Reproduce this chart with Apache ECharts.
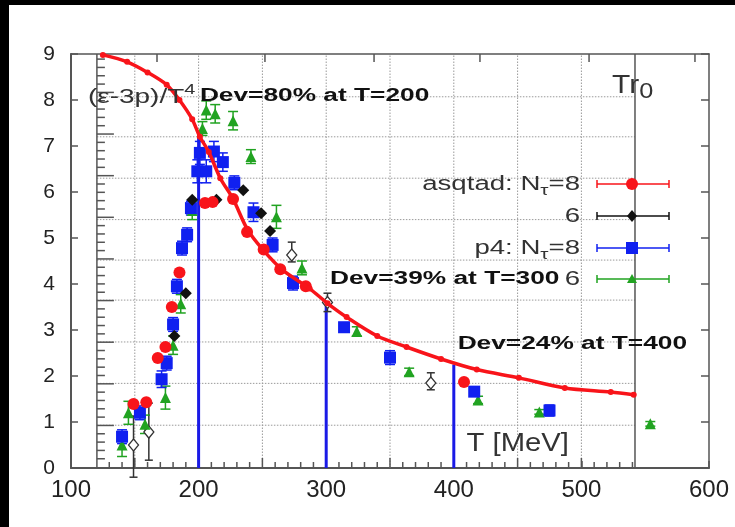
<!DOCTYPE html>
<html>
<head>
<meta charset="utf-8">
<script src="https://cdn.jsdelivr.net/npm/echarts@6/dist/echarts.min.js"></script>
<style>
  html, body { margin: 0; padding: 0; background: #000; }
  #chart { position: absolute; left: 0; top: 0; width: 735px; height: 527px; }
</style>
</head>
<body>
<div id="chart"></div>
<script>
// ---- axis ticks ----
const xTicks = [100, 200, 300, 400, 500, 600];
const yTicks = [0, 1, 2, 3, 4, 5, 6, 7, 8, 9];
const topTicksT = [167.4, 252, 337.5, 420.5, 506, 589];

// ---- parametrised trace anomaly curve (T in MeV, (e-3p)/T^4) ----
const curveT = [125, 144, 160, 175, 185, 195, 201, 208, 217, 227, 238, 250, 266, 287, 301, 316, 340, 363, 390, 418, 451, 487, 523, 541];
const curveV = [8.98, 8.83, 8.6, 8.33, 8.0, 7.58, 7.2, 6.87, 6.3, 5.85, 5.2, 4.76, 4.3, 3.9, 3.58, 3.28, 2.87, 2.63, 2.37, 2.14, 1.96, 1.74, 1.65, 1.59];

// ---- asqtad N_tau = 8 ----
const asq8T   = [149, 159, 168, 174, 179, 185, 205, 211, 227, 238, 251, 264, 284, 408];
const asq8V   = [1.39, 1.43, 2.39, 2.63, 3.5, 4.25, 5.76, 5.78, 5.85, 5.13, 4.75, 4.32, 3.95, 1.87];
const asq8Err = [0.05, 0.05, 0.05, 0.05, 0.05, 0.05, 0.05, 0.05, 0.05, 0.05, 0.05, 0.05, 0.05, 0.05];

// ---- asqtad N_tau = 6 ----
const asq6T   = [181, 190, 195, 214, 235, 249, 256];
const asq6V   = [2.87, 3.8, 5.83, 5.83, 6.04, 5.54, 5.15];
const asq6Err = [0.05, 0.05, 0.05, 0.05, 0.05, 0.05, 0.05];

// ---- p4 N_tau = 8 ----
const p4n8T   = [140, 154, 171, 175, 180, 183, 187, 191, 194, 199, 201, 206, 212, 219, 228, 243, 258, 274, 314, 350, 416, 475];
const p4n8V   = [0.68, 1.2, 1.93, 2.28, 3.12, 3.95, 4.78, 5.07, 5.65, 6.45, 6.85, 6.45, 6.88, 6.65, 6.2, 5.56, 4.85, 4.02, 3.06, 2.4, 1.66, 1.25];
const p4n8Err = [0.15, 0.15, 0.18, 0.15, 0.15, 0.15, 0.15, 0.15, 0.15, 0.25, 0.25, 0.25, 0.22, 0.2, 0.15, 0.2, 0.15, 0.15, 0.1, 0.15, 0.1, 0.12];

// ---- p4 N_tau = 6 ----
const p4n6T   = [140, 145, 158, 174, 180, 186, 195, 203, 206, 213, 227, 241, 261, 281, 324, 365, 419, 467, 554];
const p4n6V   = [0.5, 1.2, 0.95, 1.53, 2.67, 3.57, 5.6, 7.38, 7.78, 7.7, 7.55, 6.77, 5.46, 4.35, 2.97, 2.09, 1.48, 1.22, 0.96];
const p4n6Err = [0.25, 0.25, 0.2, 0.25, 0.2, 0.2, 0.2, 0.15, 0.2, 0.2, 0.2, 0.15, 0.25, 0.15, 0.1, 0.08, 0.08, 0.05, 0.05];

// ---- open diamonds with asymmetric errors ----
const openT  = [149, 161, 273, 301, 382];
const openV  = [0.5, 0.78, 4.63, 3.6, 1.85];
const openLo = [-0.2, 0.17, 4.48, 3.4, 1.7];
const openHi = [1.13, 1.41, 4.91, 3.8, 2.07];

// ---- deviation markers ----
const devT = [200, 300, 400];
const devV = [7.2, 3.6, 2.25];
const devText = ['Dev=80% at T=200', 'Dev=39% at T=300', 'Dev=24% at T=400'];
const devTextAt = [[201, 8.09], [303, 4.1], [403, 2.7]];

// ---- inner panel frame and grid ----
const innerLeftT = 120.3;
const innerRightT = 542;
const innerGridT = [150, 200, 250, 300, 350, 400, 450, 500];
const innerGridV = [0.93, 1.84, 2.74, 3.65, 4.52, 5.4, 6.3, 7.2, 8.07];
const innerUnit = 0.905;

const RED = '#f8141a', BLUE = '#1020f0', GREEN = '#21a321', BLACK = '#111';
const FONT = '"Liberation Sans", Arial, Helvetica, sans-serif';

const chart = echarts.init(document.getElementById('chart'));

function zip3(a, b, c) { return a.map((v, i) => [v, b[i], c[i]]); }
function pts(a, b) { return a.map((v, i) => [v, b[i]]); }
function errs(t, v, e) { return t.map((x, i) => [x, v[i] - e[i], v[i] + e[i]]); }

function errBar(color, cap, width) {
  return function (params, api) {
    const x = api.value(0), lo = api.value(1), hi = api.value(2);
    const p1 = api.coord([x, lo]), p2 = api.coord([x, hi]);
    const style = { stroke: color, lineWidth: width };
    return {
      type: 'group',
      children: [
        { type: 'line', shape: { x1: p1[0], y1: p1[1], x2: p2[0], y2: p2[1] }, style },
        { type: 'line', shape: { x1: p1[0] - cap, y1: p1[1], x2: p1[0] + cap, y2: p1[1] }, style },
        { type: 'line', shape: { x1: p2[0] - cap, y1: p2[1], x2: p2[0] + cap, y2: p2[1] }, style }
      ]
    };
  };
}

// minor ticks of the inner panel
const leftTicks = [];
for (let k = 1; k * innerUnit / 5 < 9; k++) leftTicks.push([k * innerUnit / 5 + 0.02, k % 5 === 0 ? 1 : 0]);
const bottomTicks = [];
for (let t = 130; t <= 540; t += 10) bottomTicks.push([t, t % 50 === 0 ? 1 : 0]);

const solid = { opacity: 1 };

const option = {
  backgroundColor: '#fff',
  animation: false,
  grid: { left: 71, right: 26, top: 54, bottom: 59, containLabel: false },
  xAxis: [
    {
      type: 'value', min: xTicks[0], max: xTicks[xTicks.length - 1], interval: 100, position: 'bottom',
      axisLine: { onZero: false, lineStyle: { color: '#555', width: 2 } },
      axisTick: { inside: true, length: 7, lineStyle: { color: '#555', width: 1.5 } },
      axisLabel: { fontSize: 24, color: '#222', margin: 10, fontFamily: FONT },
      splitLine: { show: false }
    },
    {
      type: 'value', min: xTicks[0], max: xTicks[xTicks.length - 1], interval: 100, position: 'top',
      axisLine: { onZero: false, lineStyle: { color: '#555', width: 1.5 } },
      axisTick: { show: false }, axisLabel: { show: false }, splitLine: { show: false }
    }
  ],
  yAxis: [
    {
      type: 'value', min: yTicks[0], max: yTicks[yTicks.length - 1], interval: 1, position: 'left',
      axisLine: { onZero: false, lineStyle: { color: '#555', width: 2 } },
      axisTick: { inside: true, length: 7, lineStyle: { color: '#555', width: 1.5 } },
      axisLabel: { fontSize: 21, color: '#222', margin: 16, fontFamily: FONT },
      splitLine: { show: false }
    },
    {
      type: 'value', min: yTicks[0], max: yTicks[yTicks.length - 1], interval: 1, position: 'right',
      axisLine: { onZero: false, lineStyle: { color: '#555', width: 1.5 } },
      axisTick: { inside: true, length: 8, lineStyle: { color: '#555', width: 1.5 } },
      axisLabel: { show: false }, splitLine: { show: false }
    }
  ],
  series: [
    // inner panel dotted grid (vertical)
    {
      type: 'custom', silent: true, z: 1, data: innerGridT.map(t => [t, 0]),
      renderItem: (p, api) => {
        const a = api.coord([api.value(0), 0]), b = api.coord([api.value(0), 9]);
        return { type: 'line', shape: { x1: a[0], y1: a[1], x2: b[0], y2: b[1] },
          style: { stroke: '#9a9a9a', lineWidth: 1, lineDash: [1.5, 1.5] } };
      }
    },
    // inner panel dotted grid (horizontal)
    {
      type: 'custom', silent: true, z: 1, data: innerGridV.map(v => [innerLeftT, v]),
      renderItem: (p, api) => {
        const a = api.coord([innerLeftT, api.value(1)]), b = api.coord([innerRightT, api.value(1)]);
        return { type: 'line', shape: { x1: a[0], y1: a[1], x2: b[0], y2: b[1] },
          style: { stroke: '#9a9a9a', lineWidth: 1, lineDash: [1.5, 1.5] } };
      }
    },
    // inner panel frame
    {
      type: 'custom', silent: true, z: 1, data: [[innerLeftT, 0], [innerRightT, 0]],
      renderItem: (p, api) => {
        const a = api.coord([api.value(0), 0]), b = api.coord([api.value(0), 9]);
        return { type: 'line', shape: { x1: a[0], y1: a[1], x2: b[0], y2: b[1] },
          style: { stroke: '#555', lineWidth: 1.5 } };
      }
    },
    // inner panel ticks on left edge
    {
      type: 'custom', silent: true, z: 1, data: leftTicks,
      renderItem: (p, api) => {
        const a = api.coord([innerLeftT, api.value(0)]);
        const len = api.value(1) ? 17 : 8;
        return { type: 'line', shape: { x1: a[0], y1: a[1], x2: a[0] + len, y2: a[1] },
          style: { stroke: '#555', lineWidth: 1.5 } };
      }
    },
    // inner panel ticks on bottom edge
    {
      type: 'custom', silent: true, z: 1, data: bottomTicks,
      renderItem: (p, api) => {
        const a = api.coord([api.value(0), 0]);
        const len = api.value(1) ? 10 : 6;
        return { type: 'line', shape: { x1: a[0], y1: a[1], x2: a[0], y2: a[1] - len },
          style: { stroke: '#555', lineWidth: 1.5 } };
      }
    },
    // ticks hanging from the top frame
    {
      type: 'custom', silent: true, z: 1, data: topTicksT.map(t => [t, 9]),
      renderItem: (p, api) => {
        const a = api.coord([api.value(0), 9]);
        return { type: 'line', shape: { x1: a[0], y1: a[1], x2: a[0], y2: a[1] + 8 },
          style: { stroke: '#555', lineWidth: 1.5 } };
      }
    },
    // deviation markers
    {
      type: 'custom', silent: true, z: 2, data: pts(devT, devV),
      renderItem: (p, api) => {
        const a = api.coord([api.value(0), 0]), b = api.coord([api.value(0), api.value(1)]);
        return { type: 'line', shape: { x1: a[0], y1: a[1], x2: b[0], y2: b[1] },
          style: { stroke: '#1a1ae6', lineWidth: 3 } };
      }
    },
    // error bars
    { type: 'custom', silent: true, z: 3, clip: false, data: zip3(openT, openLo, openHi), renderItem: errBar('#333', 4, 1.5) },
    { type: 'custom', silent: true, z: 3, data: errs(p4n6T, p4n6V, p4n6Err), renderItem: errBar(GREEN, 5, 1.5) },
    { type: 'custom', silent: true, z: 3, data: errs(p4n8T, p4n8V, p4n8Err), renderItem: errBar(BLUE, 5, 1.5) },
    { type: 'custom', silent: true, z: 3, data: errs(asq6T, asq6V, asq6Err), renderItem: errBar(BLACK, 3, 1.2) },
    { type: 'custom', silent: true, z: 3, data: errs(asq8T, asq8V, asq8Err), renderItem: errBar(RED, 3, 1.2) },
    // data points
    { name: 'open', type: 'scatter', z: 4, data: pts(openT, openV), symbol: 'diamond', symbolSize: [10, 12],
      itemStyle: { color: '#fff', borderColor: '#333', borderWidth: 1.3, opacity: 1 } },
    { name: 'p4 Nt=6', type: 'scatter', z: 4, data: pts(p4n6T, p4n6V), symbol: 'triangle', symbolSize: 11,
      itemStyle: { color: GREEN, opacity: 1 } },
    { name: 'p4 Nt=8', type: 'scatter', z: 4, data: pts(p4n8T, p4n8V), symbol: 'rect', symbolSize: 12,
      itemStyle: { color: BLUE, opacity: 1 } },
    { name: 'asqtad Nt=6', type: 'scatter', z: 4, data: pts(asq6T, asq6V), symbol: 'diamond', symbolSize: 12,
      itemStyle: { color: BLACK, opacity: 1 } },
    { name: 'asqtad Nt=8', type: 'scatter', z: 5, data: pts(asq8T, asq8V), symbol: 'circle', symbolSize: 12,
      itemStyle: { color: RED, opacity: 1 } },
    // curve
    { name: 'curve', type: 'line', z: 6, smooth: 0.3, data: pts(curveT, curveV),
      symbol: 'circle', symbolSize: 6, showSymbol: true,
      lineStyle: { color: RED, width: 3.5 }, itemStyle: { color: RED, opacity: 1 } }
  ]
};
chart.setOption(option);

// ---- annotations and key ----
function px(t, v) { return chart.convertToPixel({ xAxisIndex: 0, yAxisIndex: 0 }, [t, v]); }
const g = [];
function text(x, y, str, o) {
  g.push({
    type: 'text', x, y, scaleX: o.sx || 1, z: 20,
    style: {
      text: str, fill: o.color || '#333', font: o.font, align: o.align || 'left', verticalAlign: 'middle',
      rich: o.rich
    }
  });
}
// black border strips
g.push({ type: 'rect', shape: { x: 0, y: 0, width: 735, height: 5 }, style: { fill: '#000' }, z: 30 });
g.push({ type: 'rect', shape: { x: 0, y: 0, width: 9, height: 527 }, style: { fill: '#000' }, z: 30 });

const ylab = px(113.3, 8.11);
text(ylab[0], ylab[1], '{a|(ε-3p)/T}{s|4}', { sx: 1.33, rich: {
  a: { fontSize: 21, fontFamily: FONT, fill: '#333', lineHeight: 26, verticalAlign: 'bottom' },
  s: { fontSize: 15, fontFamily: FONT, fill: '#333', lineHeight: 26, verticalAlign: 'top', padding: [0, 0, 6, 0] } } });

devText.forEach((s, i) => {
  const p = px(devTextAt[i][0], devTextAt[i][1]);
  text(p[0], p[1], s, { sx: 1.46, font: 'bold 18px ' + FONT, color: '#111' });
});

const tl = px(410, 0.52);
text(tl[0], tl[1], 'T [MeV]', { sx: 1.17, font: '25px ' + FONT });

const tr = px(524, 8.26);
text(tr[0], tr[1], '{a|Tr}{s|0}', { sx: 1.15, rich: {
  a: { fontSize: 26, fontFamily: FONT, fill: '#333', lineHeight: 30, verticalAlign: 'top' },
  s: { fontSize: 22, fontFamily: FONT, fill: '#333', lineHeight: 30, verticalAlign: 'bottom' } } });

// key
const keyRows = [
  { y: 184, label: '{a|asqtad: N}{s|τ}{a|=8}', color: RED, symbol: 'circle', size: 12 },
  { y: 216, label: '{a|6}', color: BLACK, symbol: 'diamond', size: 10 },
  { y: 248, label: '{a|p4: N}{s|τ}{a|=8}', color: BLUE, symbol: 'rect', size: 12 },
  { y: 279, label: '{a|6}', color: GREEN, symbol: 'triangle', size: 10 }
];
const keyRich = {
  a: { fontSize: 20, fontFamily: FONT, fill: '#333', lineHeight: 28, verticalAlign: 'middle' },
  s: { fontSize: 15, fontFamily: FONT, fill: '#333', lineHeight: 28, verticalAlign: 'bottom' }
};
keyRows.forEach(r => {
  text(580, r.y, r.label, { sx: 1.38, align: 'right', rich: keyRich });
  const ls = { stroke: r.color, lineWidth: 1.5 };
  g.push({ type: 'line', z: 20, shape: { x1: 597, y1: r.y, x2: 669, y2: r.y }, style: ls });
  g.push({ type: 'line', z: 20, shape: { x1: 597, y1: r.y - 4, x2: 597, y2: r.y + 4 }, style: ls });
  g.push({ type: 'line', z: 20, shape: { x1: 669, y1: r.y - 4, x2: 669, y2: r.y + 4 }, style: ls });
  let shape;
  if (r.symbol === 'circle') shape = { type: 'circle', shape: { cx: 632, cy: r.y, r: r.size / 2 } };
  else if (r.symbol === 'rect') shape = { type: 'rect', shape: { x: 632 - r.size / 2, y: r.y - r.size / 2, width: r.size, height: r.size } };
  else if (r.symbol === 'diamond') shape = { type: 'polygon', shape: { points: [[632, r.y - 6], [637, r.y], [632, r.y + 6], [627, r.y]] } };
  else shape = { type: 'polygon', shape: { points: [[632, r.y - 5], [637, r.y + 4], [627, r.y + 4]] } };
  shape.z = 21; shape.style = { fill: r.color };
  g.push(shape);
});

chart.setOption({ graphic: g });
</script>
</body>
</html>
